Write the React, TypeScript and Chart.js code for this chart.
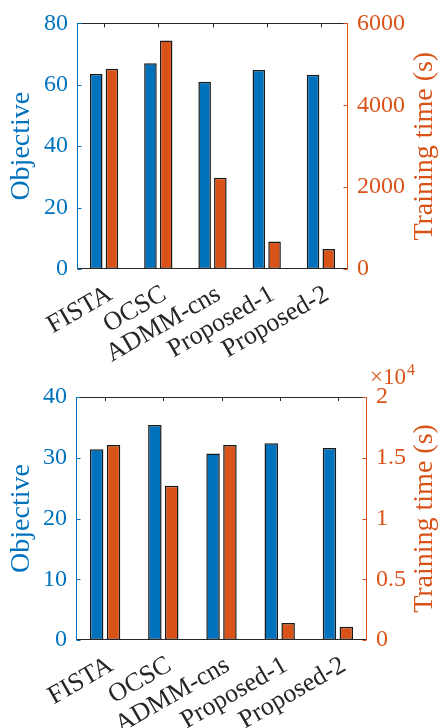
import React, { useEffect, useRef } from "react";
import { Chart, registerables } from "chart.js";

Chart.register(...registerables);

// ---------- data ----------
const categories = ["FISTA", "OCSC", "ADMM-cns", "Proposed-1", "Proposed-2"];

const objectiveTop = [63.5, 67.0, 61.0, 64.8, 63.3];
const timeTop = [4890, 5580, 2230, 670, 490];
const topLeftTicks = [0, 20, 40, 60, 80];
const topRightTicks = [0, 2000, 4000, 6000];
const topRightLabels = ["0", "2000", "4000", "6000"];

const objectiveBottom = [31.4, 35.4, 30.7, 32.4, 31.6];
const timeBottom = [16050, 12700, 16050, 1400, 1100];
const bottomLeftTicks = [0, 10, 20, 30, 40];
const bottomRightTicks = [0, 5000, 10000, 15000, 20000];
const bottomRightLabels = ["0", "0.5", "1", "1.5", "2"];

const leftTitle = "Objective";
const rightTitle = "Training time (s)";

// ---------- style ----------
const BLUE = "#0072BD";
const ORANGE = "#D95319";
const DARK = "#262626";
const FONT = "'Liberation Serif', 'DejaVu Serif', serif";

const framePlugin = {
  id: "frame",
  afterDatasetsDraw(chart: any, _args: any, opts: any) {
    const { ctx, chartArea } = chart;
    const { left, right, top, bottom } = chartArea;
    const x = chart.scales.x;
    const yL = chart.scales.y;
    const yR = chart.scales.y1;
    const tl = 4;
    ctx.save();
    ctx.lineWidth = 1;
    // top & bottom
    ctx.strokeStyle = DARK;
    ctx.beginPath();
    ctx.moveTo(left, Math.round(top) + 0.5);
    ctx.lineTo(right, Math.round(top) + 0.5);
    ctx.moveTo(left, Math.round(bottom) - 0.5);
    ctx.lineTo(right, Math.round(bottom) - 0.5);
    x.ticks.forEach((_t: any, i: number) => {
      const px = Math.round(x.getPixelForTick(i)) + 0.5;
      ctx.moveTo(px, top);
      ctx.lineTo(px, top + tl);
    });
    ctx.stroke();
    // left
    ctx.strokeStyle = BLUE;
    ctx.beginPath();
    const lx = Math.round(left) + 0.5;
    ctx.moveTo(lx, top);
    ctx.lineTo(lx, bottom);
    yL.ticks.forEach((t: any) => {
      const py = Math.round(yL.getPixelForValue(t.value)) + 0.5;
      ctx.moveTo(lx, py);
      ctx.lineTo(lx + tl, py);
    });
    ctx.stroke();
    // right
    ctx.strokeStyle = ORANGE;
    ctx.beginPath();
    const rx = Math.round(right) - 0.5;
    ctx.moveTo(rx, top);
    ctx.lineTo(rx, bottom);
    yR.ticks.forEach((t: any) => {
      const py = Math.round(yR.getPixelForValue(t.value)) + 0.5;
      ctx.moveTo(rx, py);
      ctx.lineTo(rx - tl, py);
    });
    ctx.stroke();

    // titles
    const cy = (top + bottom) / 2;
    ctx.font = `28px ${FONT}`;
    ctx.textAlign = "center";
    ctx.textBaseline = "middle";
    ctx.fillStyle = BLUE;
    ctx.save();
    ctx.translate(opts.leftTitleX, cy);
    ctx.rotate(-Math.PI / 2);
    ctx.fillText(leftTitle, 0, 0);
    ctx.restore();
    ctx.fillStyle = ORANGE;
    ctx.save();
    ctx.translate(opts.rightTitleX, cy);
    ctx.rotate(-Math.PI / 2);
    ctx.fillText(rightTitle, 0, 0);
    ctx.restore();

    // exponent
    if (opts.exponent) {
      ctx.fillStyle = ORANGE;
      ctx.textAlign = "left";
      ctx.textBaseline = "alphabetic";
      ctx.font = `23px ${FONT}`;
      const base = "\u00D710";
      ctx.fillText(base, opts.expX, opts.expY);
      const w = ctx.measureText(base).width;
      ctx.font = `16px ${FONT}`;
      ctx.fillText(opts.exponent, opts.expX + w + 1, opts.expY - 9);
    }
    ctx.restore();
  },
};

type Props = {
  objective: number[];
  time: number[];
  leftTicks: number[];
  rightTicks: number[];
  rightLabels: string[];
  leftW: number;
  rightW: number;
  xH: number;
  padTop: number;
  exponent?: string;
  expX?: number;
  expY?: number;
};

function DualBarChart(p: Props) {
  const ref = useRef<HTMLCanvasElement | null>(null);
  useEffect(() => {
    if (!ref.current) return;
    const chart = new Chart(ref.current, {
      type: "bar",
      data: {
        labels: categories,
        datasets: [
          {
            label: leftTitle,
            data: p.objective,
            backgroundColor: BLUE,
            borderColor: "#1a1a1a",
            borderWidth: 1.5,
            borderSkipped: false,
            yAxisID: "y",
            categoryPercentage: 0.58,
            barPercentage: 0.8,
          },
          {
            label: rightTitle,
            data: p.time,
            backgroundColor: ORANGE,
            borderColor: "#1a1a1a",
            borderWidth: 1.5,
            borderSkipped: false,
            yAxisID: "y1",
            categoryPercentage: 0.58,
            barPercentage: 0.8,
          },
        ],
      },
      options: {
        animation: false,
        responsive: true,
        maintainAspectRatio: false,
        layout: { padding: { top: p.padTop, left: 0, right: 0, bottom: 0 } },
        plugins: {
          legend: { display: false },
          tooltip: { enabled: false },
          frame: {
            leftTitleX: 22,
            rightTitleX: 425,
            exponent: p.exponent,
            expX: p.expX,
            expY: p.expY,
          },
        } as any,
        scales: {
          x: {
            grid: { display: false, drawTicks: false },
            border: { display: false },
            ticks: {
              color: DARK,
              font: { family: FONT, size: 26 },
              minRotation: 30,
              maxRotation: 30,
              autoSkip: false,
              padding: 10,
              labelOffset: 6,
            },
            afterFit: (s: any) => {
              s.height = p.xH;
            },
          },
          y: {
            position: "left",
            min: p.leftTicks[0],
            max: p.leftTicks[p.leftTicks.length - 1],
            grid: { display: false, drawTicks: false },
            border: { display: false },
            ticks: {
              stepSize: p.leftTicks[1] - p.leftTicks[0],
              color: BLUE,
              font: { family: FONT, size: 24 },
              padding: 9,
            },
            afterFit: (s: any) => {
              s.width = p.leftW;
            },
          },
          y1: {
            position: "right",
            min: p.rightTicks[0],
            max: p.rightTicks[p.rightTicks.length - 1],
            grid: { display: false, drawTicks: false },
            border: { display: false },
            ticks: {
              stepSize: p.rightTicks[1] - p.rightTicks[0],
              color: ORANGE,
              font: { family: FONT, size: 24 },
              padding: 9,
              callback: (v: any) => {
                const i = p.rightTicks.indexOf(Number(v));
                return i >= 0 ? p.rightLabels[i] : "";
              },
            },
            afterFit: (s: any) => {
              s.width = p.rightW;
            },
          },
        },
      },
      plugins: [framePlugin],
    });
    return () => chart.destroy();
  }, []);
  return (
    <div style={{ position: "relative", width: 443, height: 364 }}>
      <canvas ref={ref} />
    </div>
  );
}

export default function App() {
  useEffect(() => {
    document.body.style.margin = "0";
    document.body.style.background = "#ffffff";
  }, []);
  return (
    <div style={{ width: 443, height: 728, background: "#ffffff" }}>
      <DualBarChart
        objective={objectiveTop}
        time={timeTop}
        leftTicks={topLeftTicks}
        rightTicks={topRightTicks}
        rightLabels={topRightLabels}
        leftW={77}
        rightW={95}
        xH={95}
        padTop={21}
      />
      <DualBarChart
        objective={objectiveBottom}
        time={timeBottom}
        leftTicks={bottomLeftTicks}
        rightTicks={bottomRightTicks}
        rightLabels={bottomRightLabels}
        leftW={76}
        rightW={76}
        xH={88}
        padTop={33}
        exponent="4"
        expX={370}
        expY={20}
      />
    </div>
  );
}
